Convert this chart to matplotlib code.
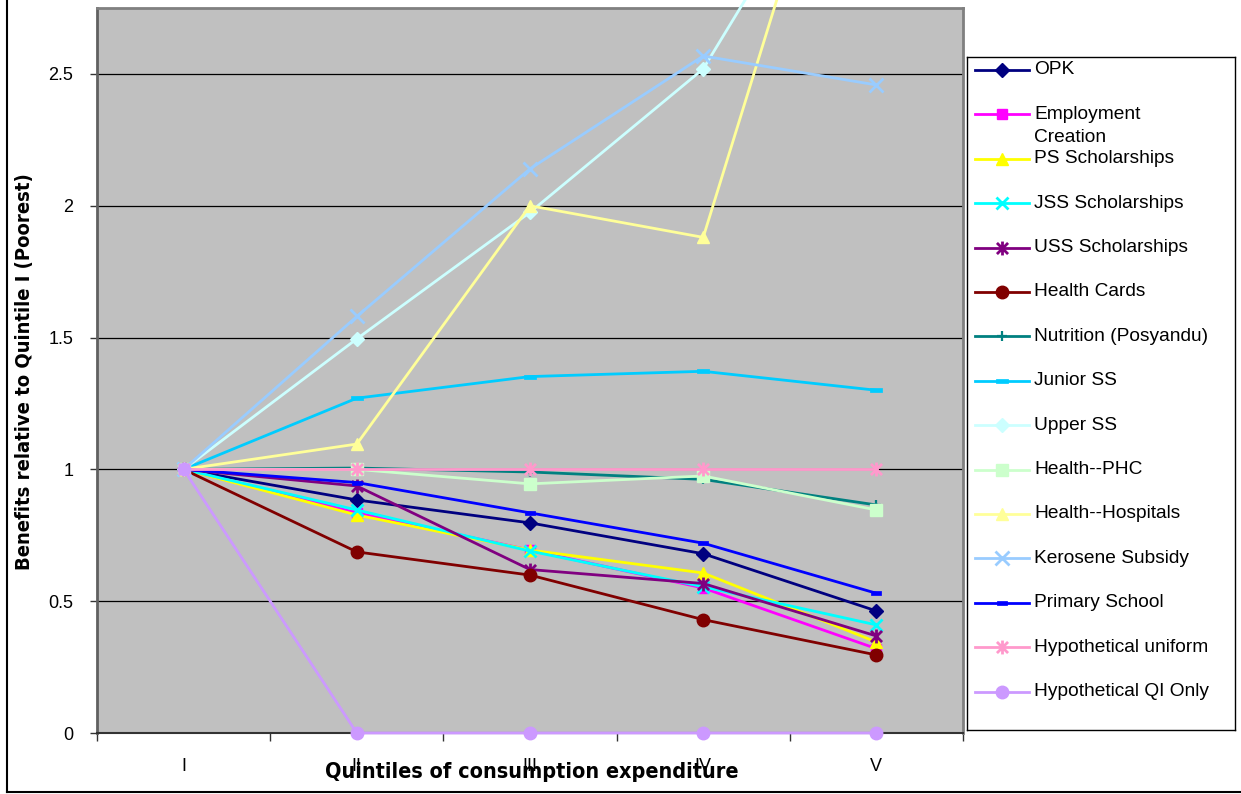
import matplotlib
matplotlib.use("Agg")
import matplotlib.pyplot as plt
from matplotlib import font_manager as fm
from matplotlib.path import Path
from matplotlib.lines import Line2D

# ---- data -------------------------------------------------------------
quintiles = ["I", "II", "III", "IV", "V"]

opk          = [1, 0.884, 0.797, 0.680, 0.463]
employment   = [1, 0.835, 0.694, 0.550, 0.320]
ps_schol     = [1, 0.827, 0.694, 0.607, 0.345]
jss_schol    = [1, 0.846, 0.690, 0.555, 0.410]
uss_schol    = [1, 0.937, 0.620, 0.567, 0.368]
health_cards = [1, 0.687, 0.599, 0.430, 0.296]
nutrition    = [1, 1.005, 0.990, 0.962, 0.865]
junior_ss    = [1, 1.270, 1.352, 1.372, 1.300]
upper_ss     = [1, 1.495, 1.975, 2.519, 3.600]
health_phc   = [1, 1.000, 0.945, 0.975, 0.846]
hospitals    = [1, 1.096, 2.000, 1.880, 4.000]
kerosene     = [1, 1.580, 2.140, 2.568, 2.458]
primary      = [1, 0.950, 0.835, 0.720, 0.530]
uniform      = [1, 1.000, 1.000, 1.000, 1.000]
qi_only      = [1, 0.000, 0.000, 0.000, 0.000]

labels = ["OPK", "Employment\nCreation", "PS Scholarships", "JSS Scholarships",
          "USS Scholarships", "Health Cards", "Nutrition (Posyandu)", "Junior SS",
          "Upper SS", "Health--PHC", "Health--Hospitals", "Kerosene Subsidy",
          "Primary School", "Hypothetical uniform", "Hypothetical QI Only"]
values = [opk, employment, ps_schol, jss_schol, uss_schol, health_cards, nutrition,
          junior_ss, upper_ss, health_phc, hospitals, kerosene, primary, uniform, qi_only]

# ---- marker shapes ----------------------------------------------------
star = Path([(-1, -1), (1, 1), (-1, 1), (1, -1), (0, -1.25), (0, 1.25)],
            [Path.MOVETO, Path.LINETO, Path.MOVETO, Path.LINETO, Path.MOVETO, Path.LINETO])
dash = Path([(-1, -0.4), (1, -0.4), (1, 0.4), (-1, 0.4), (-1, -0.4)],
            [Path.MOVETO, Path.LINETO, Path.LINETO, Path.LINETO, Path.CLOSEPOLY])

# (color, marker, markersize, marker edge width, filled)
styles = [
    ("#000080", "D", 7.5, 1.0, True),
    ("#FF00FF", "s", 7.5, 1.0, True),
    ("#FFFF00", "^", 9.0, 1.0, True),
    ("#00FFFF", "x", 8.0, 2.0, False),
    ("#800080", star, 10.0, 2.0, False),
    ("#800000", "o", 9.0, 1.0, True),
    ("#008080", "+", 7.0, 1.6, False),
    ("#00CCFF", dash, 8.0, 0.5, True),
    ("#CCFFFF", "D", 7.5, 1.0, True),
    ("#CCFFCC", "s", 8.5, 1.0, True),
    ("#FFFF99", "^", 9.0, 1.0, True),
    ("#99CCFF", "x", 9.5, 2.0, False),
    ("#0000FF", dash, 7.0, 0.5, True),
    ("#FF99CC", star, 10.0, 2.0, False),
    ("#CC99FF", "o", 9.0, 1.0, True),
]

# ---- fonts ------------------------------------------------------------
def has_font(name):
    try:
        fm.findfont(fm.FontProperties(family=name), fallback_to_default=False)
        return True
    except Exception:
        return False

base_font = "Liberation Sans" if has_font("Liberation Sans") else "DejaVu Sans"
if has_font("Liberation Sans Narrow"):
    label_font = dict(family="Liberation Sans Narrow", weight="bold")
else:
    label_font = dict(family="DejaVu Sans", weight="bold", stretch="condensed")
plt.rcParams["font.family"] = [base_font, "DejaVu Sans"]

# ---- figure -----------------------------------------------------------
W, H = 1241, 794
fig = plt.figure(figsize=(W / 100, H / 100), dpi=100)
fig.patch.set_facecolor("white")

def px_box(x0, y0, x1, y1):
    return [x0 / W, 1 - y1 / H, (x1 - x0) / W, (y1 - y0) / H]

ax = fig.add_axes(px_box(97, 8, 963, 733))
ax.set_facecolor("#C0C0C0")
x = list(range(len(quintiles)))

for vals, (col, mk, ms, mew, filled) in zip(values, styles):
    ax.plot(x, vals, color=col, lw=2.0, marker=mk, markersize=ms,
            markerfacecolor=col if filled else "none", markeredgecolor=col,
            markeredgewidth=mew, clip_on=False, zorder=3)

ax.set_xlim(-0.5, 4.5)
ax.set_ylim(0, 2.75)
ax.set_yticks([0, 0.5, 1, 1.5, 2, 2.5])
ax.set_yticklabels(["0", "0.5", "1", "1.5", "2", "2.5"], fontsize=13)
ax.yaxis.grid(True, color="black", lw=0.9, zorder=1)
ax.set_axisbelow(True)
ax.set_xticks(x)
ax.set_xticklabels(quintiles, fontsize=13)
ax.set_xticks([i - 0.5 for i in range(6)], minor=True)
ax.tick_params(axis="x", which="major", length=0, pad=18)
ax.tick_params(axis="x", which="minor", length=6, width=1, color="#333333", direction="out")
ax.tick_params(axis="y", length=5, width=1, color="#333333", direction="out", pad=12)

for side in ("top", "right"):
    ax.spines[side].set_color("#808080")
    ax.spines[side].set_linewidth(2)
ax.spines["left"].set_color("#606060")
ax.spines["left"].set_linewidth(2)
ax.spines["bottom"].set_color("#333333")
ax.spines["bottom"].set_linewidth(1.5)

fig.text(532 / W, 1 - 772 / H, "Quintiles of consumption expenditure",
         ha="center", va="center", fontsize=15.5, **label_font)
fig.text(25 / W, 1 - 372 / H, "Benefits relative to Quintile I (Poorest)",
         ha="center", va="center", rotation=90, fontsize=14.5, **label_font)

# ---- legend box ---------------------------------------------------------
lx0, ly0, lx1, ly1 = 967, 57, 1235, 730
lax = fig.add_axes(px_box(lx0, ly0, lx1, ly1))
lax.set_xlim(lx0, lx1)
lax.set_ylim(ly1, ly0)
lax.set_xticks([])
lax.set_yticks([])
lax.set_facecolor("white")
for s in lax.spines.values():
    s.set_color("black")
    s.set_linewidth(1)

for i, (lab, (col, mk, ms, mew, filled)) in enumerate(zip(labels, styles)):
    yy = 70 + 44.4 * i
    lax.plot([975, 1029], [yy, yy], color=col, lw=2.0, clip_on=False)
    lax.plot([1002], [yy], color=col, marker=mk, markersize=ms,
             markerfacecolor=col if filled else "none", markeredgecolor=col,
             markeredgewidth=mew, clip_on=False)
    for k, line in enumerate(lab.split("\n")):
        lax.text(1034, yy + 23 * k, line, ha="left", va="center", fontsize=13.8)

# ---- outer frame ------------------------------------------------------
fig.add_artist(Line2D([7 / W, 7 / W], [1 - 792 / H, 1.0], color="black", lw=1.5))
fig.add_artist(Line2D([7 / W, 1.0], [1 - 792 / H, 1 - 792 / H], color="black", lw=1.5))

fig.savefig("out.png", dpi=100)
